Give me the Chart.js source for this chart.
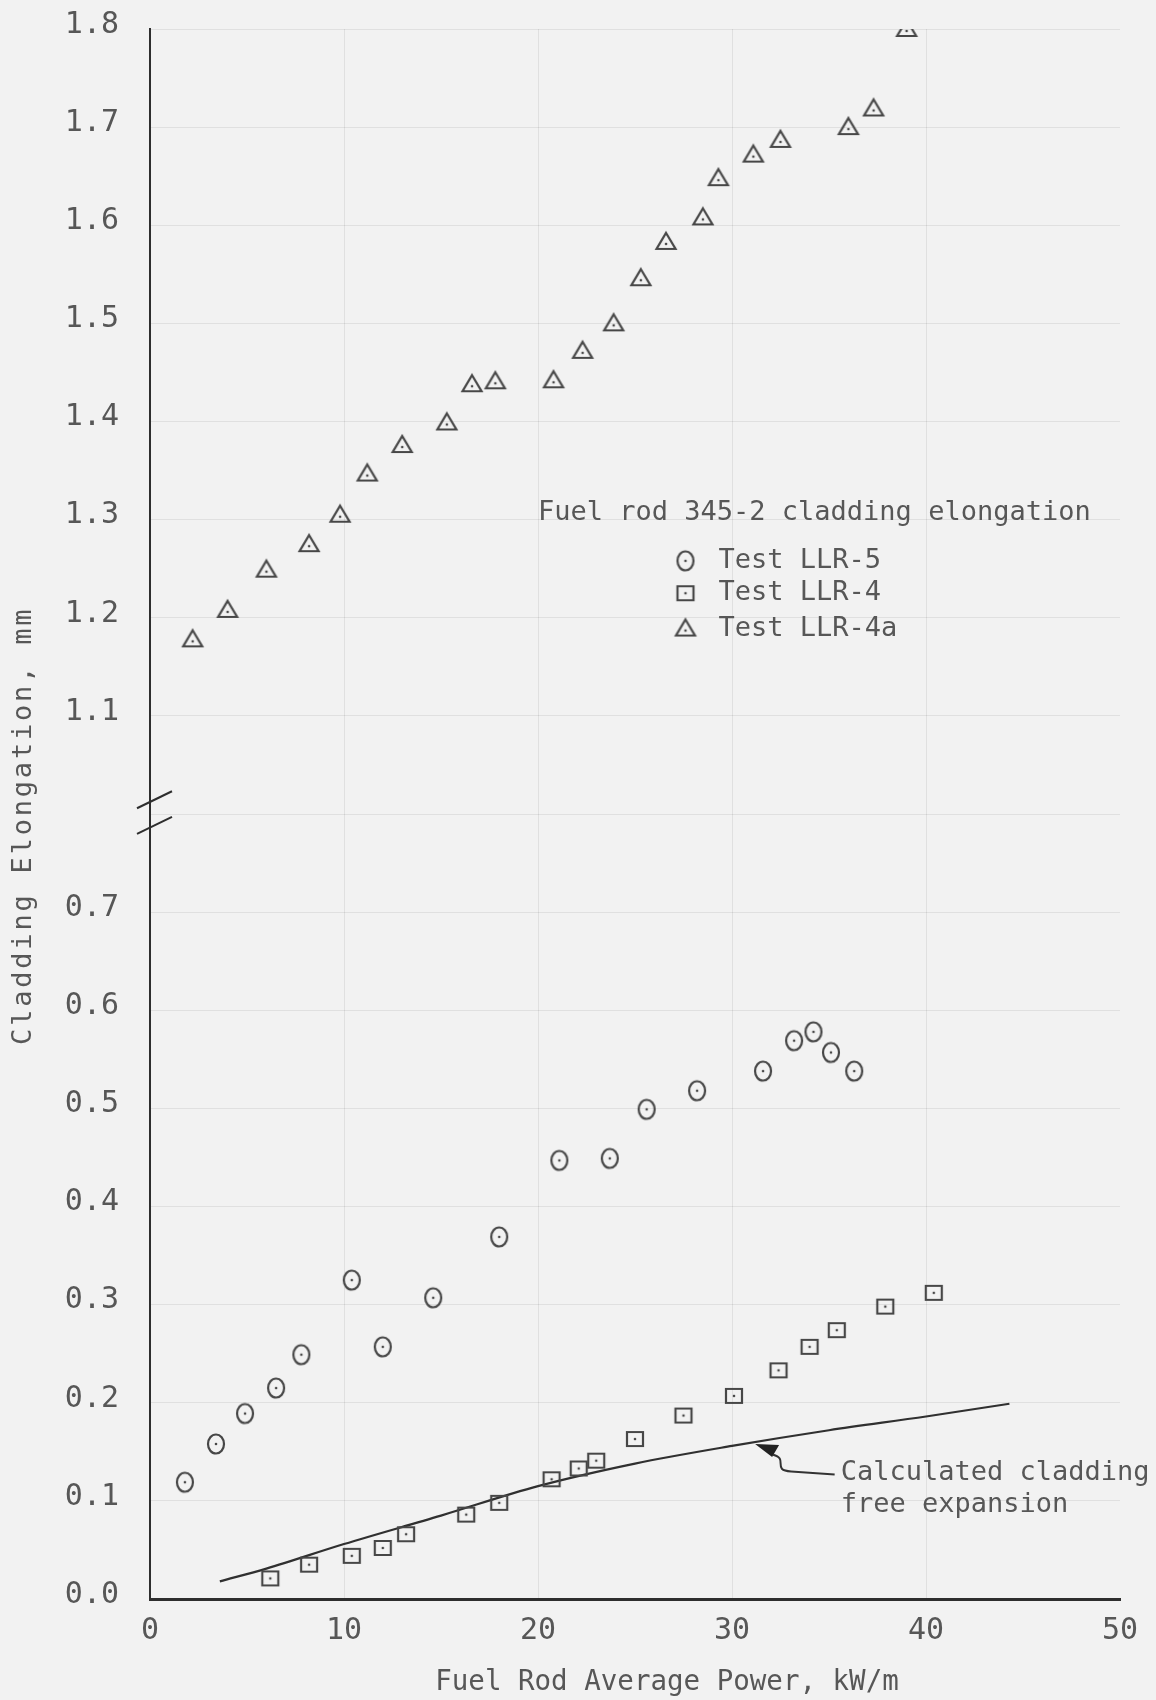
<!DOCTYPE html>
<html>
<head>
<meta charset="utf-8">
<script src="https://cdn.jsdelivr.net/npm/chart.js@4.4.1/dist/chart.umd.min.js"></script>
<style>
  html, body { margin: 0; padding: 0; background: #f2f2f2; }
  #wrap { width: 1156px; height: 1700px; }
</style>
</head>
<body>
<div id="wrap"><canvas id="chart" width="1156" height="1700"></canvas></div>
<script>
// Fuel rod 345-2 cladding elongation vs. fuel rod average power (kW/m)
const llr5Power = [1.8, 3.4, 4.9, 6.5, 7.8, 10.4, 12.0, 14.6, 18.0, 21.1, 23.7, 25.6, 28.2, 31.6, 33.2, 34.2, 35.1, 36.3];
const llr5Elong = [0.119, 0.158, 0.189, 0.215, 0.249, 0.325, 0.257, 0.307, 0.369, 0.447, 0.449, 0.499, 0.518, 0.538, 0.569, 0.578, 0.557, 0.538];

const llr4Power = [6.2, 8.2, 10.4, 12.0, 13.2, 16.3, 18.0, 20.7, 22.1, 23.0, 25.0, 27.5, 30.1, 32.4, 34.0, 35.4, 37.9, 40.4];
const llr4Elong = [0.021, 0.035, 0.044, 0.052, 0.066, 0.086, 0.098, 0.122, 0.133, 0.141, 0.163, 0.187, 0.207, 0.233, 0.257, 0.274, 0.298, 0.312];

const llr4aPower = [2.2, 4.0, 6.0, 8.2, 9.8, 11.2, 13.0, 15.3, 16.6, 17.8, 20.8, 22.3, 23.9, 25.3, 26.6, 28.5, 29.3, 31.1, 32.5, 36.0, 37.3, 39.0];
const llr4aElong = [1.178, 1.208, 1.249, 1.275, 1.305, 1.347, 1.376, 1.399, 1.438, 1.441, 1.442, 1.472, 1.500, 1.546, 1.583, 1.608, 1.648, 1.672, 1.687, 1.700, 1.719, 1.800];

const calcPower = [3.6, 6, 10, 15, 20, 25, 30, 35, 40, 44.3];
const calcElong = [0.018, 0.031, 0.056, 0.085, 0.115, 0.138, 0.156, 0.172, 0.186, 0.199];

const xTickValues = [0, 10, 20, 30, 40, 50];
const yTicksLower = [0.0, 0.1, 0.2, 0.3, 0.4, 0.5, 0.6, 0.7];
const yTicksUpper = [1.1, 1.2, 1.3, 1.4, 1.5, 1.6, 1.7, 1.8];

// broken y axis: everything above the break is drawn AXIS_GAP lower
const AXIS_BREAK = 1.0;
const AXIS_GAP = 0.2;
const toAxis = (v) => (v >= AXIS_BREAK ? v - AXIS_GAP : v);
const fromAxis = (v) => (v > AXIS_BREAK - AXIS_GAP + 0.05 ? v + AXIS_GAP : v);

const PAPER = "#f2f2f2";
const INK = "#474747";
const TEXT = "#575757";
const AXIS_INK = "#2e2e2e";
const GRID = "rgba(0,0,0,0.075)";
const MONO = '"DejaVu Sans Mono", monospace';

const points = (xs, ys) => xs.map((x, i) => ({ x, y: toAxis(ys[i]) }));

// hand-drawn looking markers with a dot in the middle
function marker(kind) {
  const c = document.createElement("canvas");
  c.width = 26;
  c.height = 26;
  const g = c.getContext("2d");
  g.strokeStyle = INK;
  g.fillStyle = INK;
  g.lineWidth = 2.2;
  g.beginPath();
  if (kind === "circle") {
    g.ellipse(13, 13, 8, 9.5, 0, 0, 2 * Math.PI);
  } else if (kind === "square") {
    g.rect(5, 6, 16, 14);
  } else {
    g.moveTo(13, 4);
    g.lineTo(22.5, 20);
    g.lineTo(3.5, 20);
    g.closePath();
  }
  g.stroke();
  g.beginPath();
  g.arc(13, kind === "triangle" ? 15 : 13, 1.3, 0, 2 * Math.PI);
  g.fill();
  return c;
}
const circleMark = marker("circle");
const squareMark = marker("square");
const triangleMark = marker("triangle");

function drawText(ctx, str, px, py, size, spacing, align) {
  ctx.font = `${size}px ${MONO}`;
  ctx.letterSpacing = `${spacing}px`;
  ctx.textAlign = align || "left";
  ctx.textBaseline = "middle";
  ctx.fillStyle = TEXT;
  ctx.fillText(str, px, py);
}

const overlay = {
  id: "overlay",
  beforeDraw(chart) {
    const { ctx, width, height } = chart;
    ctx.save();
    ctx.fillStyle = PAPER;
    ctx.fillRect(0, 0, width, height);
    ctx.restore();
  },
  afterDraw(chart) {
    const { ctx, chartArea } = chart;
    const { x, y } = chart.scales;
    ctx.save();

    // axis break slashes
    ctx.strokeStyle = AXIS_INK;
    ctx.lineWidth = 2;
    [0.814, 0.788].forEach((v) => {
      const py = y.getPixelForValue(v);
      ctx.beginPath();
      ctx.moveTo(chartArea.left - 13, py + 8);
      ctx.lineTo(chartArea.left + 22, py - 9);
      ctx.stroke();
    });

    // legend block
    drawText(ctx, "Fuel rod 345-2 cladding elongation", x.getPixelForValue(20.0), y.getPixelForValue(toAxis(1.307)), 27, 0);
    const entries = [
      [circleMark, "Test LLR-5", 1.258],
      [squareMark, "Test LLR-4", 1.225],
      [triangleMark, "Test LLR-4a", 1.189],
    ];
    entries.forEach(([img, label, v]) => {
      const py = y.getPixelForValue(toAxis(v));
      const mx = x.getPixelForValue(27.6);
      ctx.drawImage(img, mx - img.width / 2, py - img.height / 2);
      drawText(ctx, label, x.getPixelForValue(29.3), py, 27, 0);
    });

    // note on the calculated curve
    const nx = x.getPixelForValue(35.6);
    drawText(ctx, "Calculated cladding", nx, y.getPixelForValue(0.128), 27, 0);
    drawText(ctx, "free expansion", nx, y.getPixelForValue(0.096), 27, 0);

    const hx = x.getPixelForValue(31.5);
    const hy = y.getPixelForValue(0.158);
    ctx.strokeStyle = "#333";
    ctx.lineWidth = 2;
    ctx.beginPath();
    ctx.moveTo(nx - 6, y.getPixelForValue(0.127));
    ctx.lineTo(hx + 30, y.getPixelForValue(0.130));
    ctx.bezierCurveTo(hx + 10, y.getPixelForValue(0.131), hx + 28, y.getPixelForValue(0.143), hx + 12, y.getPixelForValue(0.147));
    ctx.stroke();
    ctx.fillStyle = "#222";
    ctx.beginPath();
    ctx.moveTo(hx - 6, hy);
    ctx.lineTo(hx + 18, hy + 1);
    ctx.lineTo(hx + 11, hy + 13);
    ctx.closePath();
    ctx.fill();

    // axis titles
    drawText(ctx, "Fuel Rod Average Power, kW/m", 667, 1683, 27.5, 0, "center");
    ctx.save();
    ctx.translate(24, y.getPixelForValue(0.788));
    ctx.rotate(-Math.PI / 2);
    drawText(ctx, "Cladding Elongation, mm", 0, 0, 27, 2.8, "center");
    ctx.restore();

    ctx.restore();
  },
};

const ctx = document.getElementById("chart").getContext("2d");
new Chart(ctx, {
  type: "scatter",
  data: {
    datasets: [
      {
        label: "Test LLR-5",
        data: points(llr5Power, llr5Elong),
        pointStyle: circleMark,
      },
      {
        label: "Test LLR-4",
        data: points(llr4Power, llr4Elong),
        pointStyle: squareMark,
      },
      {
        label: "Test LLR-4a",
        data: points(llr4aPower, llr4aElong),
        pointStyle: triangleMark,
      },
      {
        label: "Calculated cladding free expansion",
        type: "line",
        data: points(calcPower, calcElong),
        borderColor: "#303030",
        borderWidth: 2.2,
        pointRadius: 0,
        cubicInterpolationMode: "monotone",
      },
    ],
  },
  options: {
    responsive: false,
    animation: false,
    devicePixelRatio: 1,
    layout: { padding: { top: 29, right: 36, left: 0, bottom: 0 } },
    plugins: {
      legend: { display: false },
      tooltip: { enabled: false },
    },
    scales: {
      x: {
        type: "linear",
        min: 0,
        max: 50,
        afterBuildTicks: (scale) => {
          scale.ticks = xTickValues.map((value) => ({ value }));
        },
        afterFit: (scale) => {
          scale.height = 101;
          scale.paddingLeft = 0;
          scale.paddingRight = 0;
        },
        ticks: {
          font: { family: MONO, size: 30 },
          color: TEXT,
          padding: 14,
        },
        grid: {
          drawTicks: false,
          color: (c) => (c.tick && (c.tick.value === 0 || c.tick.value === 50) ? "transparent" : GRID),
        },
        border: { display: true, color: AXIS_INK, width: 3 },
      },
      y: {
        type: "linear",
        min: 0,
        max: 1.6,
        afterBuildTicks: (scale) => {
          const vals = [...yTicksLower, 0.8, ...yTicksUpper.map(toAxis)];
          scale.ticks = vals.map((value) => ({ value }));
        },
        afterFit: (scale) => {
          scale.width = 150;
          scale.paddingTop = 0;
          scale.paddingBottom = 0;
        },
        ticks: {
          font: { family: MONO, size: 30 },
          color: TEXT,
          padding: 31,
          labelOffset: -4,
          callback: (value) => {
            if (Math.abs(value - 0.8) < 0.01) return "";
            return fromAxis(value).toFixed(1);
          },
        },
        grid: {
          drawTicks: false,
          color: (c) => (c.tick && c.tick.value === 0 ? "transparent" : GRID),
        },
        border: { display: true, color: AXIS_INK, width: 2 },
      },
    },
  },
  plugins: [overlay],
});
</script>
</body>
</html>
